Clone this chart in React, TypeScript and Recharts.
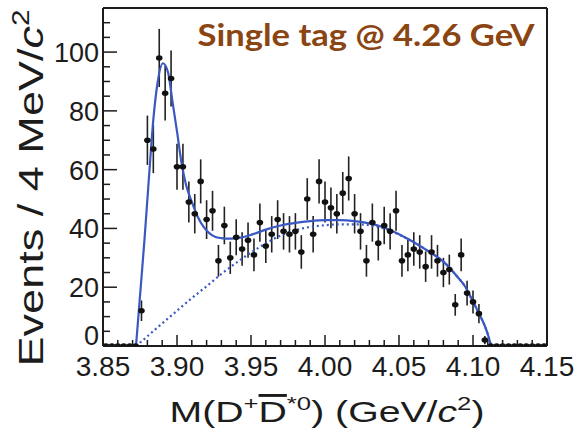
/**
 * D+ D*0 invariant mass, single tag at 4.26 GeV.
 * Histogram points with Poisson error bars, total fit (solid) and background (dotted).
 */

import { ComposedChart, XAxis, YAxis, Scatter, ErrorBar, Line, ReferenceLine } from 'recharts'

// 4 MeV/c^2 bins, 3.85 - 4.15 GeV/c^2
const BIN_START = 3.85
const BIN_WIDTH = 0.004

const counts = [
  0, 0, 0, 0, 0, 0, 12, 70, 67, 98,
  86, 91, 61, 61, 49, 45, 56, 43, 46, 29,
  41, 30, 37, 33, 36, 31, 42, 34, 38, 43,
  39, 38, 39, 32, 50, 38, 56, 49, 47, 45,
  52, 57, 45, 39, 29, 42, 35, 41, 39, 46,
  29, 31, 33, 32, 27, 32, 29, 25, 26, 14,
  31, 18, 15, 11, 2, 0, 0, 0, 0, 0,
  0, 0, 0, 0, 0,
]

const errors = [
  0, 0, 0, 0, 0, 0, 3.5, 8.4, 8.2, 9.9,
  9.3, 9.5, 7.8, 7.8, 7.0, 6.7, 7.5, 6.6, 6.8, 5.4,
  6.4, 5.5, 6.1, 5.7, 6.0, 5.6, 6.5, 5.8, 6.2, 6.6,
  6.2, 6.2, 6.2, 5.7, 7.1, 6.2, 7.5, 7.0, 6.9, 6.7,
  7.2, 7.5, 6.7, 6.2, 5.4, 6.5, 5.9, 6.4, 6.2, 6.8,
  5.4, 5.6, 5.7, 5.7, 5.2, 5.7, 5.4, 5.0, 5.1, 3.7,
  5.6, 4.2, 3.9, 3.3, 1.4, 0, 0, 0, 0, 0,
  0, 0, 0, 0, 0,
]

// total fit curve
const fitMass = [
  3.8723, 3.875, 3.878, 3.881, 3.884, 3.887, 3.8905, 3.894, 3.897, 3.9,
  3.903, 3.906, 3.91, 3.914, 3.918, 3.922, 3.926, 3.93, 3.935, 3.94,
  3.945, 3.95, 3.96, 3.97, 3.98, 3.99, 4.0, 4.01, 4.02, 4.03,
  4.04, 4.05, 4.06, 4.07, 4.08, 4.09, 4.095, 4.1, 4.105, 4.108,
  4.11, 4.1122,
]
const fitTotal = [
  0, 17, 36, 57, 77, 90, 96.2, 93, 83, 73,
  62.5, 55, 49, 44, 40.5, 38.3, 37.1, 36.7, 36.5, 36.7,
  37.1, 37.8, 39.6, 41.0, 41.9, 42.5, 42.8, 42.8, 42.5, 41.7,
  40.3, 38.0, 35.3, 32.2, 28.7, 23.2, 20, 15.1, 10.1, 6.8,
  4, 0,
]

// background shape
const bkgMass = [
  3.8723, 3.88, 3.89, 3.9, 3.91, 3.92, 3.93, 3.94, 3.95, 3.96,
  3.97, 3.98, 3.99, 4.0, 4.01, 4.02, 4.03, 4.04, 4.05, 4.06,
  4.07, 4.08, 4.09, 4.095, 4.1, 4.105, 4.108, 4.11, 4.1122,
]
const bkgValues = [
  0, 3.3, 7.7, 12, 16.3, 20.3, 24.5, 28.3, 31.8, 34.9,
  37.6, 39.4, 40.5, 41.1, 41.4, 41.4, 41.1, 40.0, 37.9, 35.3,
  32.2, 28.7, 23.2, 20, 15.1, 10.1, 6.8, 4, 0,
]

const xMajorTicks = [3.85, 3.9, 3.95, 4.0, 4.05, 4.1, 4.15]
const xMinorTicks = [
  3.86, 3.87, 3.88, 3.89, 3.91, 3.92, 3.93, 3.94, 3.96, 3.97, 3.98, 3.99,
  4.01, 4.02, 4.03, 4.04, 4.06, 4.07, 4.08, 4.09, 4.11, 4.12, 4.13, 4.14,
]
const yMajorTicks = [0, 20, 40, 60, 80, 100]
const yMinorTicks = [5, 10, 15, 25, 30, 35, 45, 50, 55, 65, 70, 75, 85, 90, 95, 105, 110]

const Y_MAX = 115
const FIT_BLUE = '#3a58c2'
const AXIS_FONT = "'Liberation Sans', Arial, Helvetica, sans-serif"
const INK = '#1c1c1c'

const points = counts.map((c, i) => ({
  x: BIN_START + BIN_WIDTH * (i + 0.5),
  y: c,
  err: errors[i],
}))
const fitData = fitMass.map((m, i) => ({ x: m, y: fitTotal[i] }))
const bkgData = bkgMass.map((m, i) => ({ x: m, y: bkgValues[i] }))

const xTicks = [...xMajorTicks, ...xMinorTicks].sort((a, b) => a - b)
const yTicks = [...yMajorTicks, ...yMinorTicks].sort((a, b) => a - b)

// ticks point into the frame, ROOT style
const XTick = ({ x, y, payload }: any) => {
  const v = payload.value
  const major = xMajorTicks.some(t => Math.abs(t - v) < 1e-6)
  return (
    <g>
      <line x1={x} x2={x} y1={y} y2={y - (major ? 11 : 6)} stroke={INK} strokeWidth={1.5} />
      {major && (
        <text x={x} y={y + 30} textAnchor="middle" fontSize={28} fill={INK} fontFamily={AXIS_FONT}>
          {v.toFixed(2)}
        </text>
      )}
    </g>
  )
}

const YTick = ({ x, y, payload }: any) => {
  const v = payload.value
  const major = yMajorTicks.includes(v)
  return (
    <g>
      <line x1={x} x2={x + (major ? 14 : 7)} y1={y} y2={y} stroke={INK} strokeWidth={1.5} />
      {major && (
        <text x={x - 4} y={y + (v === 0 ? -1 : 10)} textAnchor="end" fontSize={27} fill={INK} fontFamily={AXIS_FONT}>
          {v}
        </text>
      )}
    </g>
  )
}

const Dot = ({ cx, cy }: any) => <ellipse cx={cx} cy={cy} rx={3.3} ry={2.8} fill="#111" />

const App = () => (
  <div style={{ position: 'relative', width: 580, height: 430 }}>
    <style>{'body{margin:0}'}</style>
    <ComposedChart width={580} height={430} margin={{ top: 8, right: 33, bottom: 83, left: 102 }}>
      <XAxis
        dataKey="x"
        type="number"
        domain={[3.85, 4.15]}
        allowDataOverflow
        ticks={xTicks}
        interval={0}
        height={1}
        tickSize={0}
        tickMargin={0}
        tick={<XTick />}
        tickLine={false}
        axisLine={{ stroke: INK, strokeWidth: 2 }}
      />
      <YAxis
        dataKey="y"
        type="number"
        domain={[0, Y_MAX]}
        allowDataOverflow
        ticks={yTicks}
        interval={0}
        width={1}
        tickSize={0}
        tickMargin={0}
        tick={<YTick />}
        tickLine={false}
        axisLine={{ stroke: INK, strokeWidth: 2 }}
      />
      <ReferenceLine y={Y_MAX} stroke={INK} strokeWidth={2} />
      <ReferenceLine x={4.15} stroke={INK} strokeWidth={2} />
      <Scatter data={points} shape={<Dot />} isAnimationActive={false}>
        <ErrorBar dataKey="err" direction="y" width={0} stroke="#222" strokeWidth={1.6} isAnimationActive={false} />
      </Scatter>
      <Line
        data={bkgData}
        dataKey="y"
        type="monotone"
        stroke={FIT_BLUE}
        strokeWidth={2.2}
        strokeDasharray="2 3"
        dot={false}
        isAnimationActive={false}
      />
      <Line
        data={fitData}
        dataKey="y"
        type="monotone"
        stroke={FIT_BLUE}
        strokeWidth={2.2}
        dot={false}
        isAnimationActive={false}
      />
    </ComposedChart>

    {/* titles drawn on top of the chart */}
    <svg width={580} height={430} style={{ position: 'absolute', left: 0, top: 0, pointerEvents: 'none' }}>
      <text
        x={366}
        y={46}
        textAnchor="middle"
        fontFamily="Lato, 'Open Sans', sans-serif"
        fontWeight={700}
        fontSize={30}
        fill="#8a4512"
        textLength={337}
        lengthAdjust="spacingAndGlyphs"
      >
        Single tag @ 4.26 GeV
      </text>
      <text
        transform="translate(43, 188) rotate(-90)"
        textAnchor="middle"
        fontFamily={AXIS_FONT}
        fontSize={35}
        fill={INK}
        textLength={357}
        lengthAdjust="spacingAndGlyphs"
      >
        Events / 4 MeV/<tspan fontStyle="italic">c</tspan>
        <tspan fontSize={23} dy={-14}>2</tspan>
      </text>
      <text
        x={327}
        y={422}
        textAnchor="middle"
        fontFamily={AXIS_FONT}
        fontSize={29}
        fill={INK}
        textLength={315}
        lengthAdjust="spacingAndGlyphs"
      >
        M(D<tspan fontSize={19} dy={-12}>+</tspan>
        <tspan dy={12} style={{ textDecoration: 'overline' }}>D</tspan>
        <tspan fontSize={19} dy={-12}>*0</tspan>
        <tspan dy={12}>) (GeV/</tspan>
        <tspan fontStyle="italic">c</tspan>
        <tspan fontSize={19} dy={-12}>2</tspan>
        <tspan dy={12}>)</tspan>
      </text>
    </svg>
  </div>
)

export default App
